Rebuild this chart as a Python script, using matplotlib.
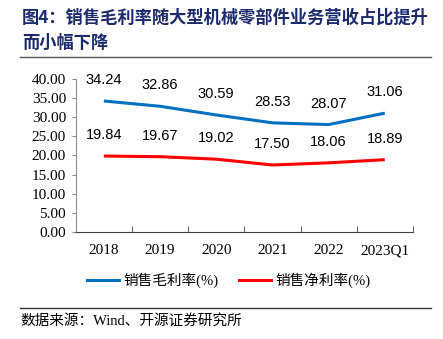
import matplotlib
matplotlib.use("Agg")
import matplotlib.pyplot as plt
from matplotlib.lines import Line2D

plt.rcParams['font.family'] = ['Liberation Serif', 'Noto Sans CJK SC', 'DejaVu Sans']

years = ['2018', '2019', '2020', '2021', '2022', '2023Q1']
gross_margin = [34.24, 32.86, 30.59, 28.53, 28.07, 31.06]
net_margin = [19.84, 19.67, 19.02, 17.50, 18.06, 18.89]
y_ticks = [0, 5, 10, 15, 20, 25, 30, 35, 40]

BLUE = '#0070C0'
RED = '#FF0000'
NAVY = '#1c2a6e'

fig = plt.figure(figsize=(4.43, 3.39), dpi=100)
ax = fig.add_axes([0.171, 0.316, 0.761, 0.451])

x = list(range(len(years)))
ax.plot(x, gross_margin, color=BLUE, linewidth=2.2, solid_capstyle='butt')
ax.plot(x, net_margin, color=RED, linewidth=2.2, solid_capstyle='butt')

# data labels sit about 20px above each point
for xi, v in zip(x, gross_margin):
    ax.annotate(f'{v:.2f}', (xi, v), xytext=(0, 15), textcoords='offset points',
                ha='center', va='center', fontsize=10.5, family='Liberation Sans')
for xi, v in zip(x, net_margin):
    ax.annotate(f'{v:.2f}', (xi, v), xytext=(0, 15), textcoords='offset points',
                ha='center', va='center', fontsize=10.5, family='Liberation Sans')

ax.set_xlim(-0.5, len(years) - 0.5)
ax.set_ylim(0, 40)
ax.set_yticks(y_ticks)
ax.set_yticklabels([f'{t:.2f}' for t in y_ticks], fontsize=11)
ax.set_xticks(x)
ax.set_xticklabels(years, fontsize=11)
ax.set_xticks([i - 0.5 for i in range(len(years) + 1)], minor=True)
ax.tick_params(axis='x', which='major', length=0, pad=9)
ax.tick_params(axis='x', which='minor', direction='in', length=4, color='#404040')
ax.tick_params(axis='y', length=3, color='#8c8c8c', pad=4)

for s in ['top', 'right']:
    ax.spines[s].set_visible(False)
ax.spines['left'].set_color('#8c8c8c')
ax.spines['bottom'].set_color('#404040')

handles = [Line2D([], [], color=BLUE, linewidth=2.2),
           Line2D([], [], color=RED, linewidth=2.2)]
fig.legend(handles, ['销售毛利率(%)', '销售净利率(%)'], loc='center',
           bbox_to_anchor=(0.516, 0.174), ncol=2, frameon=False, fontsize=10.5,
           handlelength=2.2, handletextpad=0.3, columnspacing=1.4)

fig.text(0.05, 0.947, '图4：销售毛利率随大型机械零部件业务营收占比提升', fontsize=12.4,
         fontweight='bold', color=NAVY, family=['Noto Sans CJK SC'], va='center')
fig.text(0.05, 0.873, '而小幅下降', fontsize=12.4, fontweight='bold', color=NAVY,
         family=['Noto Sans CJK SC'], va='center')

fig.add_artist(Line2D([0.045, 0.972], [1 - 57 / 339] * 2, color='#555555', linewidth=1))
fig.add_artist(Line2D([0.045, 0.972], [1 - 308 / 339] * 2, color='#333333', linewidth=1))

fig.text(0.045, 0.053, '数据来源：Wind、开源证券研究所', fontsize=10.5, va='center')

fig.savefig('out.png', dpi=100)
